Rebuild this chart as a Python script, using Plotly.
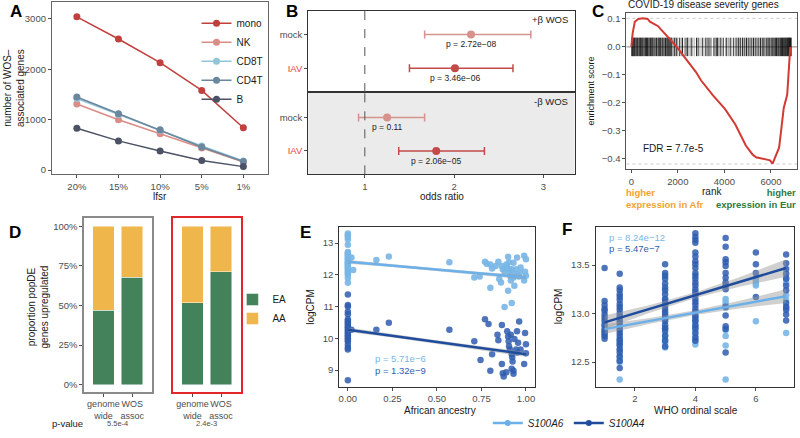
import plotly.graph_objects as go

W, H = 800, 438
FONT = "Liberation Sans, Arial, sans-serif"
TICKC = "#4D4D4D"


def dx(a, b):
    return [a / W, b / W]


def dy(top, bottom):
    return [1 - bottom / H, 1 - top / H]


# ---------------- Panel A data ----------------
lfsr = ["20%", "15%", "10%", "5%", "1%"]
cell_types = ["mono", "NK", "CD8T", "CD4T", "B"]
mono = [3040, 2600, 2130, 1580, 840]
nk = [1310, 1000, 720, 440, 160]
cd8t = [1420, 1100, 790, 480, 180]
cd4t = [1450, 1120, 800, 460, 170]
b_cells = [830, 580, 380, 190, 70]
a_colors = ["#C1403D", "#DA8C87", "#92C5D8", "#6A879E", "#4C5266"]

# ---------------- Panel B data ----------------
b_groups = ["mock", "IAV"]
b_group_labels = ["mock", "<span style='color:#E8434C'>IAV</span>"]
b_colors = ["#D8928D", "#C24B48"]
pos_or = [2.19, 2.01]
pos_lo = [1.67, 1.50]
pos_hi = [2.86, 2.66]
pos_p = ["p = 2.72e\u221208", "p = 3.46e\u221206"]
neg_or = [1.25, 1.80]
neg_lo = [0.93, 1.38]
neg_hi = [1.67, 2.34]
neg_p = ["p = 0.11", "p = 2.06e\u221205"]

# ---------------- Panel C data ----------------
es_rank = [0, 60, 150, 300, 500, 700, 800, 1000, 1150, 1300, 1450, 1730, 2000,
           2320, 2770, 3000, 3500, 4030, 4470, 4920, 5200, 5360, 5660, 5960,
           6070, 6150, 6250, 6350, 6450, 6550, 6700, 6770, 6830]
es_score = [0.0, 0.05, 0.09, 0.100, 0.102, 0.100, 0.090, 0.080, 0.074, 0.060,
            0.045, 0.021, -0.005, -0.040, -0.089, -0.120, -0.172, -0.222,
            -0.277, -0.352, -0.383, -0.394, -0.400, -0.405, -0.417, -0.400,
            -0.382, -0.360, -0.290, -0.218, -0.170, -0.066, 0.0]
hits_dark = [20, 60, 110, 150, 210, 260, 330, 380, 420, 470, 540, 600, 650, 700,
             760, 820, 880, 930, 1010, 1080, 1150, 1200, 1260, 1330, 1400, 1470,
             1530, 1580, 1620, 1660, 1700, 1740, 1850, 1950, 2080, 2200, 2350,
             2420, 2600, 2800, 2870, 3050, 3200, 3300, 3380, 3550, 3650, 3700,
             3820, 3950, 4100, 4250, 4400, 4500, 4600, 4700, 4780, 4850, 4950,
             5050, 5150, 5250, 5350, 5450, 5550, 5650, 5700, 5800, 5880, 5950,
             6010, 6080, 6130, 6190, 6240, 6300, 6350, 6400, 6450, 6500, 6550,
             6600, 6640, 6680, 6720, 6760, 6800, 6840, 6870]
hits_light = [40, 90, 130, 180, 240, 300, 350, 400, 450, 500, 570, 620, 680, 730,
              790, 850, 910, 960, 1040, 1110, 1180, 1230, 1300, 1360, 1430, 1500,
              1560, 1800, 1900, 2000, 2150, 2280, 2480, 2550, 2700, 2950, 3120,
              3250, 3450, 3600, 3750, 3880, 4050, 4180, 4320, 4550, 4650, 4900,
              5000, 5100, 5200, 5300, 5400, 5500, 5600, 5750, 5850, 5920, 6050,
              6160, 6270, 6330, 6420, 6480, 6530, 6580, 6620, 6700, 6740, 6780,
              6820]
es_max_line = 0.102
es_min_line = -0.418

# ---------------- Panel D data ----------------
d_groups = ["genome<br>wide", "WOS<br>assoc"]
d_ea_left = [0.47, 0.678]
d_aa_left = [0.53, 0.322]
d_ea_right = [0.517, 0.714]
d_aa_right = [0.483, 0.286]
d_pvals = ["5.5e-4", "2.4e-3"]
EA_COL, AA_COL = "#44825C", "#EFB64C"

# ---------------- Panel E data ----------------
e_a6_x = [0, 0, 0, 0, 0, 0, 0, 0, 0, 0, 0, 0, 0, 0, 0, 0, 0, 0, 0, 0, 0, 0, 0, 0, 0,
          0.02, 0.03, 0.16, 0.23, 0.57, 0.71, 0.74,
          0.77, 0.78, 0.8, 0.8, 0.81, 0.83, 0.845, 0.85, 0.86, 0.865, 0.87, 0.88,
          0.89, 0.895, 0.9, 0.905, 0.905, 0.91, 0.913, 0.915, 0.9, 0.88, 0.92,
          0.92, 0.925, 0.93, 0.93, 0.935, 0.945, 0.95, 0.95, 0.96, 0.965, 0.97,
          0.99, 0.995, 1.0, 1.0, 0.99]
e_a6_y = [13.3, 13.25, 13.2, 13.12, 12.95, 12.72, 12.68, 12.64, 12.6, 12.56, 12.52,
          12.48, 12.44, 12.4, 12.36, 12.32, 12.28, 12.24, 12.2, 12.15, 12.1, 12.05,
          12.0, 11.9, 11.75,
          12.55, 12.15, 12.47, 12.58, 12.4, 11.92, 11.95,
          12.41, 12.35, 12.33, 11.59, 12.2, 12.28, 12.41, 11.87, 11.76, 12.28,
          12.18, 12.1, 12.33, 12.23, 12.57, 12.4, 12.18, 12.07, 11.95, 11.82, 11.5,
          10.99, 11.11, 12.18, 12.05, 12.38, 11.92, 11.66, 12.18, 12.55, 12.02,
          11.95, 12.07, 12.23, 12.6, 12.1, 12.49, 11.97, 11.82]
e_a4_x = [0, 0, 0, 0, 0, 0, 0, 0, 0, 0, 0, 0, 0, 0, 0, 0, 0, 0, 0, 0, 0, 0, 0, 0,
          0.02, 0.16, 0.23, 0.57,
          0.71, 0.745, 0.77, 0.79, 0.8, 0.81, 0.84, 0.845, 0.865, 0.865, 0.87,
          0.875, 0.89, 0.895, 0.9, 0.903, 0.905, 0.91, 0.915, 0.92, 0.923, 0.925,
          0.93, 0.93, 0.935, 0.945, 0.95, 0.95, 0.956, 0.962, 0.97, 0.995, 1.0,
          1.0, 0.99, 0.92]
e_a4_y = [11.38, 11.05, 11.0, 10.84, 10.76, 10.6, 10.55, 10.5, 10.45, 10.4, 10.35,
          10.3, 10.25, 10.2, 10.15, 10.1, 10.05, 10.0, 9.95, 9.9, 9.8, 9.7, 9.65,
          8.68,
          10.27, 10.27, 10.49, 10.27,
          9.91, 9.32, 10.6, 10.45, 8.98, 9.5, 10.11, 9.94, 10.42, 9.19, 8.9, 8.8,
          8.93, 10.22, 10.06, 9.91, 9.75, 9.65, 10.11, 9.5, 9.4, 9.27, 8.98, 8.88,
          9.98, 9.65, 10.22, 9.55, 9.86, 10.53, 9.65, 10.17, 9.81, 9.53, 9.19, 9.04]
e_fit_x = [0.0, 0.25, 0.5, 0.75, 1.0]
e_a6_fit = [12.41, 12.29, 12.17, 12.04, 11.92]
e_a6_se = [0.06, 0.04, 0.04, 0.05, 0.07]
e_a4_fit = [10.27, 10.08, 9.89, 9.69, 9.50]
e_a4_se = [0.07, 0.05, 0.05, 0.06, 0.08]
e_pvals = ["p = 5.71e\u22126", "p = 1.32e\u22129"]

# ---------------- Panel F data ----------------
f_a4_x = ([1] * 13 + [1.5] * 25 + [3] * 22 + [4] * 30 + [5] * 15 + [6] * 4 + [7] * 12)
f_a4_y = [13.47, 13.13, 13.09, 13.05, 13.03, 12.99, 12.96, 12.93, 12.88, 12.83, 12.80, 12.77, 12.74,
          13.41, 13.27, 13.24, 13.20, 13.17, 13.14, 13.10, 13.07, 13.04, 13.00, 12.97, 12.93, 12.90,
          12.87, 12.83, 12.80, 12.77, 12.73, 12.70, 12.67, 12.63, 12.60, 12.56, 12.51, 12.44,
          13.51, 13.42, 13.39, 13.36, 13.31, 13.27, 13.24, 13.20, 13.15, 13.12, 13.09, 13.05, 13.02,
          12.98, 12.95, 12.92, 12.88, 12.85, 12.82, 12.77, 12.72, 12.66,
          13.83, 13.79, 13.76, 13.73, 13.63, 13.59, 13.54, 13.51, 13.47, 13.42, 13.39, 13.36, 13.32,
          13.29, 13.25, 13.22, 13.19, 13.15, 13.12, 13.09, 13.05, 13.02, 12.98, 12.95, 12.92, 12.88,
          12.85, 12.80, 12.75, 12.72,
          13.78, 13.69, 13.56, 13.53, 13.49, 13.42, 13.37, 13.32, 13.29, 13.25, 13.07, 12.98, 12.87,
          12.84, 12.60,
          13.63, 13.51, 13.42, 13.17,
          13.61, 13.52, 13.46, 13.41, 13.36, 13.29, 13.24, 13.11, 13.07, 13.04, 12.99, 12.93]
f_a6_x = ([1] * 6 + [1.5] * 10 + [3] * 8 + [4] * 9 + [5] * 8 + [6] * 5 + [7] * 6)
f_a6_y = [12.90, 12.87, 12.84, 12.82, 12.80, 12.78,
          12.95, 12.85, 12.74, 12.72, 12.68, 12.63, 12.55, 12.53, 12.50, 12.32,
          13.15, 13.00, 12.95, 12.85, 12.78, 12.73, 12.70, 12.65,
          13.02, 12.97, 12.92, 12.88, 12.85, 12.82, 12.77, 12.72, 12.68,
          13.15, 13.12, 13.09, 13.06, 12.83, 12.77, 12.67, 12.32,
          13.37, 13.34, 13.31, 13.29, 12.92,
          13.37, 13.32, 13.19, 13.14, 13.06, 12.80]
f_fit_x = [1, 2.5, 4, 5.5, 7]
f_a4_fit = [12.91, 13.05, 13.19, 13.33, 13.47]
f_a4_se = [0.07, 0.04, 0.03, 0.05, 0.09]
f_a6_fit = [12.84, 12.925, 13.01, 13.095, 13.18]
f_a6_se = [0.05, 0.03, 0.025, 0.04, 0.07]
f_pvals = ["p = 8.24e\u221212", "p = 5.47e\u22127"]

genes = ["S100A6", "S100A4"]
A6_COL, A4_COL = "#78B6E6", "#2F5DAF"
A6_LINE, A4_LINE = "#6CB0E9", "#1F4C9C"

fig = go.Figure()

# ---- A ----
for name, vals, col in zip(cell_types, [mono, nk, cd8t, cd4t, b_cells], a_colors):
    fig.add_trace(go.Scatter(x=lfsr, y=vals, mode="lines+markers", name=name,
                             line=dict(color=col, width=1.5),
                             marker=dict(color=col, size=7),
                             xaxis="x", yaxis="y", legend="legend"))

# ---- B ----
for ax_id, ors, los, his, ps in [("2", pos_or, pos_lo, pos_hi, pos_p),
                                 ("3", neg_or, neg_lo, neg_hi, neg_p)]:
    for i, g in enumerate(b_groups):
        fig.add_trace(go.Scatter(
            x=[ors[i]], y=[g], mode="markers", showlegend=False,
            marker=dict(color=b_colors[i], size=8),
            error_x=dict(type="data", symmetric=False,
                         array=[his[i] - ors[i]], arrayminus=[ors[i] - los[i]],
                         color=b_colors[i], thickness=1.5, width=4),
            xaxis="x" + ax_id, yaxis="y" + ax_id))
        fig.add_annotation(x=ors[i], y=g, xref="x" + ax_id, yref="y" + ax_id,
                           text=ps[i], showarrow=False, yshift=-10,
                           font=dict(size=8.5, color="#222"))

# ---- C ----
def barcode(ranks):
    xs, ys = [], []
    for r in ranks:
        xs += [r, r, None]
        ys += [-0.033, 0.033, None]
    return xs, ys

for ranks, col in [(hits_light, "rgba(0,0,0,0.35)"), (hits_dark, "rgba(0,0,0,0.85)")]:
    bx, by = barcode(ranks)
    fig.add_trace(go.Scatter(x=bx, y=by, mode="lines", showlegend=False,
                             line=dict(color=col, width=1), xaxis="x4", yaxis="y4",
                             hoverinfo="skip"))
fig.add_trace(go.Scatter(x=es_rank, y=es_score, mode="lines", showlegend=False,
                         line=dict(color="#D23B33", width=2), xaxis="x4", yaxis="y4"))

# ---- D ----
for ax_id, ea, aa in [("5", d_ea_left, d_aa_left), ("6", d_ea_right, d_aa_right)]:
    first = ax_id == "5"
    fig.add_trace(go.Bar(x=d_groups, y=ea, name="EA", marker=dict(color=EA_COL, line=dict(color="rgba(255,255,255,0.6)", width=0.8)),
                         width=0.75, showlegend=first, legend="legend2",
                         xaxis="x" + ax_id, yaxis="y" + ax_id))
    fig.add_trace(go.Bar(x=d_groups, y=aa, name="AA", marker=dict(color=AA_COL, line=dict(color="rgba(255,255,255,0.6)", width=0.8)),
                         width=0.75, showlegend=first, legend="legend2",
                         xaxis="x" + ax_id, yaxis="y" + ax_id))

# ---- E & F ----
def band(xs, fit, se):
    up = [f + s for f, s in zip(fit, se)]
    lo = [f - s for f, s in zip(fit, se)]
    return xs + xs[::-1], up + lo[::-1]

for ax_id, a6x, a6y, a4x, a4y, fx, fits in [
        ("7", e_a6_x, e_a6_y, e_a4_x, e_a4_y, e_fit_x,
         [(e_a6_fit, e_a6_se, A6_LINE), (e_a4_fit, e_a4_se, A4_LINE)]),
        ("8", f_a6_x, f_a6_y, f_a4_x, f_a4_y, f_fit_x,
         [(f_a6_fit, f_a6_se, A6_LINE), (f_a4_fit, f_a4_se, A4_LINE)])]:
    fig.add_trace(go.Scatter(x=a6x, y=a6y, mode="markers", showlegend=False,
                             marker=dict(color=A6_COL, size=6.5, opacity=0.9),
                             xaxis="x" + ax_id, yaxis="y" + ax_id))
    fig.add_trace(go.Scatter(x=a4x, y=a4y, mode="markers", showlegend=False,
                             marker=dict(color=A4_COL, size=6.5, opacity=0.85),
                             xaxis="x" + ax_id, yaxis="y" + ax_id))
    for fit, se, col in fits:
        bxs, bys = band(fx, fit, se)
        fig.add_trace(go.Scatter(x=bxs, y=bys, mode="lines", fill="toself",
                                 fillcolor="rgba(150,150,150,0.45)", line=dict(width=0),
                                 showlegend=False, hoverinfo="skip",
                                 xaxis="x" + ax_id, yaxis="y" + ax_id))
        fig.add_trace(go.Scatter(x=fx, y=fit, mode="lines", showlegend=False,
                                 line=dict(color=col, width=2.5),
                                 xaxis="x" + ax_id, yaxis="y" + ax_id))

for g, col in zip(genes, [A6_LINE, A4_LINE]):
    fig.add_trace(go.Scatter(x=[None], y=[None], mode="lines+markers", name="<i>%s</i>" % g,
                             line=dict(color=col, width=2.5), marker=dict(color=col, size=6),
                             legend="legend3", xaxis="x7", yaxis="y7"))


# ---------------- axes ----------------
def axis(domain, rng, anchor, linecolor="#4D4D4D", lw=1, **kw):
    d = dict(domain=domain, range=rng, anchor=anchor, showgrid=False, zeroline=False,
             showline=True, mirror=True, linecolor=linecolor, linewidth=lw,
             ticks="outside", ticklen=3, tickcolor="#4D4D4D", tickwidth=1,
             tickangle=0,
             tickfont=dict(size=9.5, color=TICKC, family=FONT))
    d.update(kw)
    return d

layout = dict(
    xaxis=axis(dx(51, 268), [-0.6, 4.6], "y", type="category", linecolor="#666"),
    yaxis=axis(dy(2, 178), [-83, 3334], "x", tickvals=[0, 1000, 2000, 3000], linecolor="#666"),
    xaxis2=axis(dx(308, 575), [0.366, 3.35], "y2", showticklabels=False, ticks="", linecolor="#333"),
    yaxis2=axis(dy(11, 94), [1.7, -0.7], "x2", type="category", tickvals=b_groups,
                ticktext=b_group_labels, linecolor="#333"),
    xaxis3=axis(dx(308, 575), [0.366, 3.35], "y3", tickvals=[1, 2, 3], linecolor="#333"),
    yaxis3=axis(dy(94, 178), [1.7, -0.76], "x3", type="category", tickvals=b_groups,
                ticktext=b_group_labels, linecolor="#333"),
    xaxis4=axis(dx(627, 798), [-210, 7120], "y4", tickvals=[0, 2000, 4000, 6000], linecolor="#555"),
    yaxis4=axis(dy(13, 173), [-0.4375, 0.122], "x4", tickvals=[-0.4, -0.3, -0.2, -0.1, 0, 0.1],
                tickformat=".1f", linecolor="#555"),
    xaxis5=axis(dx(83.3, 151.7), [-0.67, 1.7], "y5", type="category", linecolor="#8A8A8A", lw=1.5,
                tickfont=dict(size=9, color=TICKC, family=FONT)),
    yaxis5=axis(dy(222.7, 400), [-0.045, 1.051], "x5", tickvals=[0, 0.25, 0.5, 0.75, 1],
                tickformat=".0%", linecolor="#8A8A8A", lw=1.5),
    xaxis6=axis(dx(172.7, 240.7), [-0.67, 1.7], "y6", type="category", linecolor="#E3262D", lw=1.5,
                tickfont=dict(size=9, color=TICKC, family=FONT)),
    yaxis6=axis(dy(222.7, 400), [-0.045, 1.051], "x6", showticklabels=False, ticks="",
                linecolor="#E3262D", lw=1.5),
    xaxis7=axis(dx(339, 535), [-0.049, 1.049], "y7", tickvals=[0, 0.25, 0.5, 0.75, 1],
                tickformat=".2f", linecolor="#333"),
    yaxis7=axis(dy(231.7, 395), [8.47, 13.51], "x7", tickvals=[9, 10, 11, 12, 13], linecolor="#333"),
    xaxis8=axis(dx(596, 795), [0.70, 7.26], "y8", tickvals=[2, 4, 6], linecolor="#333"),
    yaxis8=axis(dy(231.7, 395), [12.244, 13.894], "x8", tickvals=[12.5, 13.0, 13.5],
                tickformat=".1f", linecolor="#333"),
)
fig.update_layout(**layout)

fig.update_layout(
    width=W, height=H, margin=dict(l=0, r=0, t=0, b=0), autosize=False,
    paper_bgcolor="white", plot_bgcolor="white", barmode="stack",
    font=dict(family=FONT, size=10, color="#1A1A1A"),
    legend=dict(x=196 / W, y=1 - 9 / H, xanchor="left", yanchor="top",
                bgcolor="rgba(0,0,0,0)", font=dict(size=10, color="#1A1A1A"),
                traceorder="normal", itemwidth=30),
    legend2=dict(x=232 / W, y=1 - 291 / H, xanchor="left", yanchor="top",
                 bgcolor="rgba(0,0,0,0)", font=dict(size=10, color="#1A1A1A"),
                 traceorder="normal"),
    legend3=dict(x=488 / W, y=1 - 432 / H, xanchor="left", yanchor="middle",
                 orientation="h", bgcolor="rgba(0,0,0,0)",
                 font=dict(size=10, color="#1A1A1A"), traceorder="normal"),
    showlegend=True,
)

# ---------------- shapes ----------------
shapes = [
    dict(type="rect", xref="x3 domain", yref="y3 domain", x0=0, x1=1, y0=0, y1=1,
         fillcolor="#EBEBEB", line=dict(width=0), layer="below"),
    dict(type="line", xref="x2", yref="y2 domain", x0=1, x1=1, y0=0, y1=1,
         line=dict(color="#555", width=1, dash="dash")),
    dict(type="line", xref="x3", yref="y3 domain", x0=1, x1=1, y0=0, y1=1,
         line=dict(color="#555", width=1, dash="dash")),
    dict(type="line", xref="x4 domain", yref="y4", x0=0, x1=1, y0=0, y1=0,
         line=dict(color="#888", width=1), layer="below"),
    dict(type="line", xref="x4 domain", yref="y4", x0=0, x1=1, y0=es_max_line, y1=es_max_line,
         line=dict(color="#BBBBBB", width=0.8, dash="dot"), layer="below"),
    dict(type="line", xref="x4 domain", yref="y4", x0=0, x1=1, y0=es_min_line, y1=es_min_line,
         line=dict(color="#BBBBBB", width=0.8, dash="dot"), layer="below"),
]
fig.update_layout(shapes=shapes)


# ---------------- annotations ----------------
def ann(text, x, y, size=10, color="#1A1A1A", xanchor="center", yanchor="middle",
        angle=0, align="center"):
    fig.add_annotation(text=text, x=x / W, y=1 - y / H, xref="paper", yref="paper",
                       showarrow=False, xanchor=xanchor, yanchor=yanchor,
                       textangle=angle, align=align,
                       font=dict(size=size, color=color, family=FONT))

for letter, lx, ly in [("A", 15, 12), ("B", 292, 12), ("C", 598, 12),
                       ("D", 14, 237), ("E", 305, 237), ("F", 567, 234)]:
    ann("<b>%s</b>" % letter, lx, ly, size=17, color="black")

ann("number of WOS\u2013<br>associated genes", 13, 90, size=10, angle=-90)
ann("lfsr", 159, 201, size=10)
ann("odds ratio", 442, 201, size=10)
ann("+\u03b2 WOS", 570, 20, size=9.5, xanchor="right")
ann("-\u03b2 WOS", 570, 104, size=9.5, xanchor="right")
ann("COVID-19 disease severity genes", 627, 5, size=10, xanchor="left")
ann("enrichment score", 592, 93, size=9, angle=-90)
ann("FDR = 7.7e-5", 642, 152, size=10, xanchor="left")
ann("<b>higher<br>expression in Afr</b>", 625, 203, size=9.5, color="#F2A22E",
    xanchor="left", align="left")
ann("rank", 713, 196, size=10)
ann("<b>higher<br>expression in Eur</b>", 799, 203, size=9.5, color="#2C7A3E",
    xanchor="right", align="right")

ann("proportion popDE<br>genes upregulated", 37, 313, size=10, angle=-90)
ann("p-value", 67, 432, size=9.5)
ann(d_pvals[0], 117, 432, size=7.5, color=TICKC)
ann(d_pvals[1], 206, 432, size=7.5, color=TICKC)

ann("logCPM", 310, 313, size=10, angle=-90)
ann("African ancestry", 440, 419, size=10)
ann("logCPM", 559, 313, size=10, angle=-90)
ann("WHO ordinal scale", 697, 419, size=10)

for txt, yv, col in [(e_pvals[0], 9.36, A6_COL), (e_pvals[1], 8.98, A4_COL)]:
    fig.add_annotation(text=txt, x=0.14, y=yv, xref="x7", yref="y7", showarrow=False,
                       xanchor="left", font=dict(size=9.5, color=col, family=FONT))
for txt, yv, col in [(f_pvals[0], 13.785, A6_COL), (f_pvals[1], 13.668, A4_COL)]:
    fig.add_annotation(text=txt, x=1.07, y=yv, xref="x8", yref="y8", showarrow=False,
                       xanchor="left", font=dict(size=9.5, color=col, family=FONT))

fig.write_html("out.html", config={"displayModeBar": False},
               post_script="document.body.style.margin='0';document.body.style.padding='0';")
